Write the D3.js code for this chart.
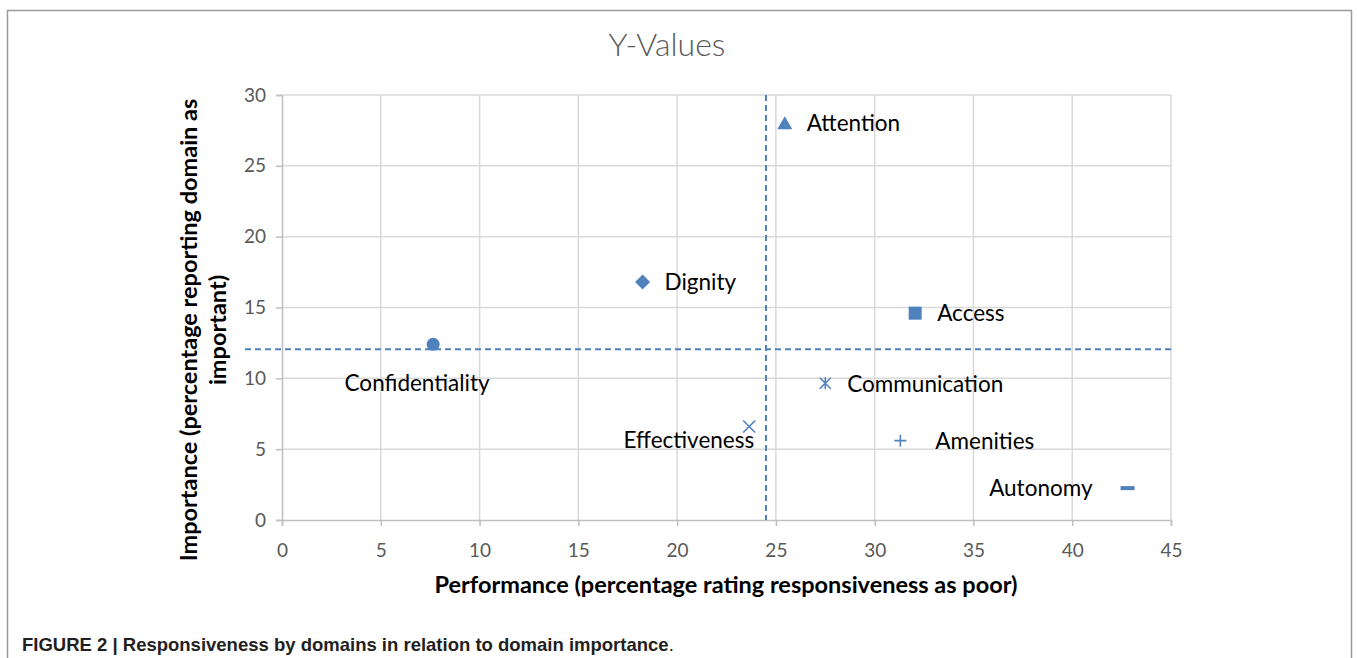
<!DOCTYPE html>
<html>
<head>
<meta charset="utf-8">
<script src="https://cdn.jsdelivr.net/npm/d3@7"></script>
<style>
  body { margin: 0; background: #fff; }
  svg { display: block; }
</style>
</head>
<body>
<svg id="chart" width="1357" height="658"></svg>
<script>
const domains = ["Confidentiality", "Dignity", "Attention", "Access", "Communication", "Effectiveness", "Amenities", "Autonomy"];
const performance = [7.65, 18.25, 25.45, 32.05, 27.5, 23.65, 31.3, 42.8];
const importance = [12.4, 16.8, 28.0, 14.6, 9.65, 6.6, 5.6, 2.25];
const markers = ["circle", "diamond", "triangle", "square", "asterisk", "cross", "plus", "dash"];
const xTicks = [0, 5, 10, 15, 20, 25, 30, 35, 40, 45];
const yTicks = [0, 5, 10, 15, 20, 25, 30];
const meanPerformance = 24.5;
const meanImportance = 12.05;

// label placement (layout only)
const labelLayout = {
  Confidentiality: { dx: -16, dy: 39, anchor: "middle" },
  Dignity: { dx: 22, dy: 0, anchor: "start" },
  Attention: { dx: 22, dy: 0, anchor: "start" },
  Access: { dx: 22, dy: 0, anchor: "start" },
  Communication: { dx: 22, dy: 1, anchor: "start" },
  Effectiveness: { dx: 5, dy: 14, anchor: "end" },
  Amenities: { dx: 35, dy: 0, anchor: "start" },
  Autonomy: { dx: -35, dy: 0, anchor: "end" }
};

const svg = d3.select("#chart");
const font = "Lato, 'Open Sans', sans-serif";
const blue = "#4f81bd";

// frame
svg.append("path").attr("d", "M7.5,658 V10.5 H1351.5 V658")
  .attr("fill", "none").attr("stroke", "#9a9a9a").attr("stroke-width", 1.5);

const x = d3.scaleLinear().domain([0, 45]).range([282, 1171]);
const y = d3.scaleLinear().domain([0, 30]).range([520, 95]);

// gridlines
svg.append("g").selectAll("line").data(xTicks.slice(1)).join("line")
  .attr("x1", d => x(d)).attr("x2", d => x(d)).attr("y1", y(30)).attr("y2", y(0))
  .attr("stroke", "#d9d9d9").attr("stroke-width", 1.5);
svg.append("g").selectAll("line").data(yTicks.slice(1)).join("line")
  .attr("x1", x(0)).attr("x2", x(45)).attr("y1", d => y(d)).attr("y2", d => y(d))
  .attr("stroke", "#d9d9d9").attr("stroke-width", 1.5);

// axes
const xAxis = svg.append("g").attr("transform", `translate(0,${y(0)})`)
  .call(d3.axisBottom(x).tickValues(xTicks).tickSize(6).tickPadding(14));
const yAxis = svg.append("g").attr("transform", `translate(${x(0)},0)`)
  .call(d3.axisLeft(y).tickValues(yTicks).tickSize(6).tickPadding(10));
[xAxis, yAxis].forEach(a => {
  a.select(".domain").attr("stroke", "#bfbfbf").attr("stroke-width", 1.5);
  a.selectAll(".tick line").attr("stroke", "#bfbfbf").attr("stroke-width", 1.5);
  a.selectAll(".tick text").attr("fill", "#595959").attr("font-size", 19).attr("font-family", font);
});
xAxis.selectAll(".tick text").attr("dy", "0.9em");

// mean lines
svg.append("line").attr("x1", 245).attr("x2", x(45))
  .attr("y1", y(meanImportance)).attr("y2", y(meanImportance))
  .attr("stroke", blue).attr("stroke-width", 2).attr("stroke-dasharray", "6,4");
svg.append("line").attr("x1", x(meanPerformance)).attr("x2", x(meanPerformance))
  .attr("y1", y(30)).attr("y2", y(0))
  .attr("stroke", blue).attr("stroke-width", 2).attr("stroke-dasharray", "6,4");

// markers
const pts = domains.map((d, i) => ({ name: d, px: x(performance[i]), py: y(importance[i]), m: markers[i] }));
const g = svg.append("g");
pts.forEach(p => {
  const t = g.append("g").attr("transform", `translate(${p.px},${p.py})`);
  if (p.m === "circle") t.append("circle").attr("r", 6.5).attr("fill", blue);
  if (p.m === "diamond") t.append("path").attr("d", "M0,-7.5L7.5,0L0,7.5L-7.5,0Z").attr("fill", blue);
  if (p.m === "triangle") t.append("path").attr("d", "M0,-7L7.5,6L-7.5,6Z").attr("fill", blue);
  if (p.m === "square") t.append("rect").attr("x", -6.5).attr("y", -6.5).attr("width", 13).attr("height", 13).attr("fill", blue);
  if (p.m === "asterisk") t.append("path").attr("d", "M-5.5,-5.5L5.5,5.5M-5.5,5.5L5.5,-5.5M0,-6V6")
    .attr("stroke", blue).attr("stroke-width", 1.6).attr("fill", "none");
  if (p.m === "cross") t.append("path").attr("d", "M-6,-6L6,6M-6,6L6,-6")
    .attr("stroke", blue).attr("stroke-width", 1.6).attr("fill", "none");
  if (p.m === "plus") t.append("path").attr("d", "M-6,0H6M0,-6V6")
    .attr("stroke", blue).attr("stroke-width", 1.6).attr("fill", "none");
  if (p.m === "dash") t.append("path").attr("d", "M-7,0H7")
    .attr("stroke", blue).attr("stroke-width", 4).attr("fill", "none");

  const L = labelLayout[p.name];
  g.append("text").text(p.name).attr("font-family", font).attr("font-size", 22.5).attr("fill", "#000")
    .attr("x", p.px + L.dx).attr("y", p.py + L.dy).attr("dy", "0.35em").attr("text-anchor", L.anchor);
});

// title
svg.append("text").text("Y-Values").attr("x", 667).attr("y", 56)
  .attr("text-anchor", "middle").attr("font-family", font).attr("font-weight", 300)
  .attr("font-size", 32).attr("fill", "#595959");

// axis titles
svg.append("text").text("Performance (percentage rating responsiveness as poor)")
  .attr("x", 726).attr("y", 593).attr("text-anchor", "middle")
  .attr("font-family", font).attr("font-weight", "bold").attr("font-size", 23.5).attr("fill", "#000");
const yt = svg.append("text").attr("transform", "translate(0,330) rotate(-90)")
  .attr("text-anchor", "middle").attr("font-family", font).attr("font-weight", "bold").attr("font-size", 23.5).attr("fill", "#000");
yt.append("tspan").attr("x", 0).attr("y", 197).text("Importance (percentage reporting domain as");
yt.append("tspan").attr("x", 0).attr("y", 226).text("important)");

// caption
const cap = svg.append("text").attr("x", 22).attr("y", 651)
  .attr("font-family", "'Liberation Sans Narrow', 'Arial Narrow', 'Liberation Sans', sans-serif")
  .attr("font-size", 18.5).attr("fill", "#231f20");
cap.append("tspan").attr("font-weight", "bold").text("FIGURE 2 | Responsiveness by domains in relation to domain importance");
cap.append("tspan").text(".");
</script>
</body>
</html>
